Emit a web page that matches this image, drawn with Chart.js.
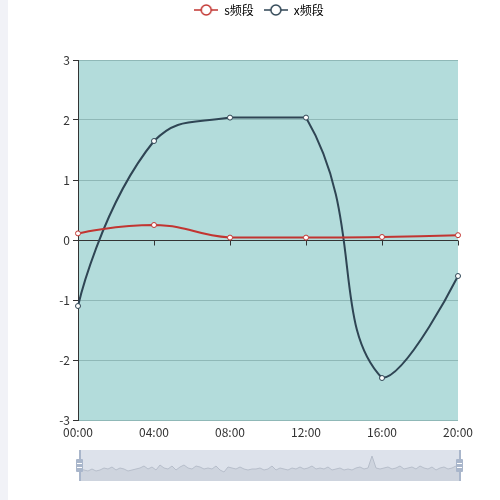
<!DOCTYPE html>
<html>
<head>
<meta charset="utf-8">
<script src="https://cdn.jsdelivr.net/npm/chart.js@4.4.1/dist/chart.umd.min.js"></script>
<style>
  body { margin: 0; background: #fff; }
  #wrap { position: relative; width: 500px; height: 500px; overflow: hidden; }
  #strip { position: absolute; left: 0; top: 0; width: 8px; height: 500px; background: #f1f2f7; }
  #main { position: absolute; left: 0; top: 0; }
  #zoom { position: absolute; left: 80px; top: 450px; width: 380px; height: 31px; background: #dde2eb; }
  #spark { position: absolute; left: 0; top: 0; }
  .bar { position: absolute; top: 0; width: 2px; height: 31px; background: #a9b6cb; }
  .handle { position: absolute; top: 9px; width: 7px; height: 13px; background: #a9b6cb; border-radius: 1px; }
  .handle:before, .handle:after { content: ''; position: absolute; left: 1px; width: 5px; height: 1px; background: #fff; }
  .handle:before { top: 4px; }
  .handle:after { top: 8px; }
</style>
</head>
<body>
<div id="wrap">
  <div id="strip"></div>
  <canvas id="main" width="500" height="445"></canvas>
  <div id="zoom">
    <canvas id="spark" width="380" height="31"></canvas>
    <div class="bar" style="left:-1px"></div>
    <div class="handle" style="left:-4px"></div>
    <div class="bar" style="left:379px"></div>
    <div class="handle" style="left:376px"></div>
  </div>
</div>
<script>
// data
const categories = ['00:00', '04:00', '08:00', '12:00', '16:00', '20:00'];
const sBand = [0.11, 0.25, 0.04, 0.04, 0.05, 0.08];
const xBand = [-1.1, 1.65, 2.04, 2.04, -2.3, -0.6];
const seriesNames = ['s频段', 'x频段'];
const yTicks = [-3, -2, -1, 0, 1, 2, 3];
// background trace of the zoom slider
const sparkValues = [
  12, 11, 10, 12, 10, 11, 13, 12, 14, 11, 13, 12, 10, 11, 12, 13, 15, 12, 14, 11, 16, 13, 12, 15, 11, 14, 16, 13, 12, 15, 14, 12,
  13, 12, 15, 11, 9, 14, 13, 12, 14, 12, 11, 12, 12, 13, 11, 12, 15, 11, 13, 12, 11, 13, 12, 14, 12, 13, 15, 12, 13, 12, 14, 11,
  12, 13, 11, 12, 11, 13, 14, 12, 13, 25, 13, 12, 13, 14, 12, 13, 15, 12, 13, 14, 12, 15, 13, 12, 14, 11, 13, 14, 12, 13, 15, 13
];

const RED = '#c23531';
const DARK = '#2f4554';
const FONT = "'Noto Sans CJK SC', 'Noto Sans', sans-serif";

function legendIcon(color) {
  const c = document.createElement('canvas');
  c.width = 24; c.height = 14;
  const g = c.getContext('2d');
  g.strokeStyle = color;
  g.lineWidth = 1.5;
  g.beginPath(); g.moveTo(0, 7); g.lineTo(24, 7); g.stroke();
  g.beginPath(); g.arc(12, 7, 5, 0, Math.PI * 2);
  g.fillStyle = '#fff'; g.fill(); g.stroke();
  return c;
}
const icons = [legendIcon(RED), legendIcon(DARK)];

const plotBg = {
  id: 'plotBg',
  beforeDraw(chart) {
    const { ctx, chartArea: a } = chart;
    ctx.save();
    ctx.fillStyle = '#b3dcdb';
    ctx.fillRect(a.left, a.top, a.right - a.left, a.bottom - a.top);
    ctx.restore();
  }
};

// x axis line sits on y = 0, with its ticks
const zeroAxis = {
  id: 'zeroAxis',
  beforeDatasetsDraw(chart) {
    const { ctx, chartArea: a, scales } = chart;
    const y0 = Math.round(scales.y.getPixelForValue(0)) + 0.5;
    ctx.save();
    ctx.strokeStyle = '#333';
    ctx.lineWidth = 1;
    ctx.beginPath();
    ctx.moveTo(a.left, y0); ctx.lineTo(a.right, y0);
    scales.x.ticks.forEach((t, i) => {
      const x = Math.round(scales.x.getPixelForTick(i)) + 0.5;
      ctx.moveTo(x, y0); ctx.lineTo(x, y0 + 5);
    });
    ctx.stroke();
    ctx.restore();
  }
};

// keep bezier handles inside the data's own vertical range, ends without handles
const boundedSmooth = {
  id: 'boundedSmooth',
  beforeDatasetsDraw(chart) {
    chart.data.datasets.forEach((ds, di) => {
      const meta = chart.getDatasetMeta(di);
      meta.dataset.updateControlPoints(chart.chartArea, 'x');
      const pts = meta.data;
      const ys = pts.map(p => p.y);
      const hi = Math.min(...ys), lo = Math.max(...ys);
      pts.forEach(p => {
        p.cp1y = Math.min(Math.max(p.cp1y, hi), lo);
        p.cp2y = Math.min(Math.max(p.cp2y, hi), lo);
      });
      const first = pts[0], last = pts[pts.length - 1];
      first.cp2x = first.x; first.cp2y = first.y;
      last.cp1x = last.x; last.cp1y = last.y;
    });
  }
};

const legendSpace = {
  id: 'legendSpace',
  beforeInit(chart) {
    const fit = chart.legend.fit;
    chart.legend.fit = function () {
      fit.bind(chart.legend)();
      this.height = 60;
    };
  },
  afterLayout(chart) {
    chart.legend.left += 30;
    chart.legend.right += 30;
    chart.legend.top -= 6;
    chart.legend.bottom -= 6;
  }
};

new Chart(document.getElementById('main'), {
  type: 'line',
  data: {
    labels: categories,
    datasets: [
      {
        label: seriesNames[0], data: sBand,
        borderColor: RED, backgroundColor: RED, borderWidth: 2,
        pointRadius: 2.5, pointBackgroundColor: '#fff', pointBorderColor: RED, pointBorderWidth: 1,
        tension: 0.5
      },
      {
        label: seriesNames[1], data: xBand,
        borderColor: DARK, backgroundColor: DARK, borderWidth: 2,
        pointRadius: 2.5, pointBackgroundColor: '#fff', pointBorderColor: DARK, pointBorderWidth: 1,
        tension: 0.5
      }
    ]
  },
  options: {
    responsive: false,
    animation: false,
    layout: { padding: { left: 0, right: 42, top: 0, bottom: 0 } },
    plugins: {
      legend: {
        labels: {
          usePointStyle: true,
          pointStyleWidth: 24,
          padding: 10,
          color: '#333',
          font: { family: FONT, size: 12 },
          generateLabels(chart) {
            return chart.data.datasets.map((ds, i) => ({
              text: ds.label, pointStyle: icons[i], datasetIndex: i,
              fillStyle: '#fff', strokeStyle: ds.borderColor, lineWidth: 0, hidden: false
            }));
          }
        }
      },
      tooltip: { enabled: false }
    },
    scales: {
      x: {
        offset: false,
        grid: { display: false },
        border: { display: false },
        ticks: { color: '#333', font: { family: FONT, size: 12 }, padding: -3, autoSkip: false, maxRotation: 0 },
        afterFit(scale) { scale.height = 25; }
      },
      y: {
        min: yTicks[0], max: yTicks[yTicks.length - 1],
        afterBuildTicks(scale) { scale.ticks = yTicks.map(v => ({ value: v })); },
        grid: {
          color: (c) => (c.tick && c.tick.value === 0) ? 'rgba(0,0,0,0)' : '#8fb8b7',
          tickColor: '#333', tickLength: 5
        },
        border: { display: true, color: '#333' },
        ticks: { color: '#333', font: { family: FONT, size: 12 }, padding: 3 },
        afterFit(scale) { scale.width = 78; }
      }
    }
  },
  plugins: [plotBg, zeroAxis, boundedSmooth, legendSpace]
});

new Chart(document.getElementById('spark'), {
  type: 'line',
  data: {
    labels: sparkValues.map((v, i) => i),
    datasets: [{
      data: sparkValues, borderColor: '#b6bdca', borderWidth: 1,
      backgroundColor: '#ced4de', fill: 'origin', pointRadius: 0, tension: 0
    }]
  },
  options: {
    responsive: false,
    animation: false,
    layout: { padding: 0 },
    plugins: { legend: { display: false }, tooltip: { enabled: false } },
    scales: {
      x: { display: false, offset: false },
      y: { display: false, min: 0, max: 31 }
    }
  }
});
</script>
</body>
</html>
